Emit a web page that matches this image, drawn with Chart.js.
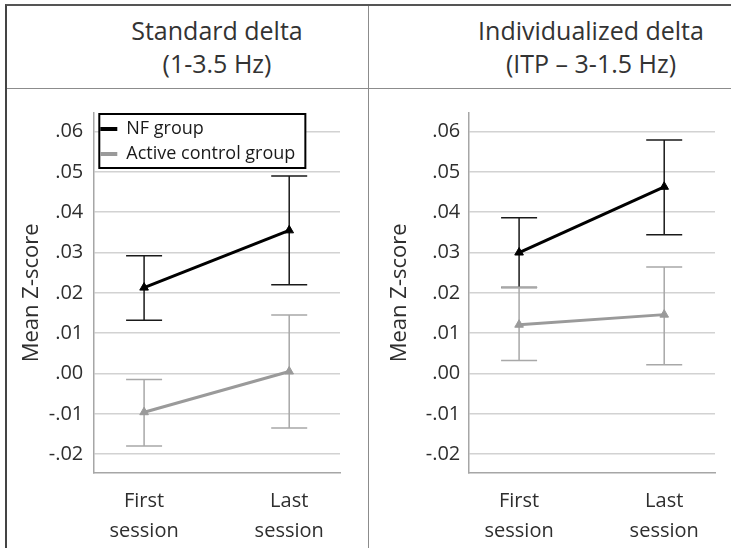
<!DOCTYPE html>
<html><head><meta charset="utf-8">
<script src="https://cdn.jsdelivr.net/npm/chart.js@4"></script>
<style>
html,body{margin:0;padding:0;background:#fff;width:731px;height:548px;overflow:hidden;font-family:"Open Sans",sans-serif;}
#frame{position:absolute;left:5px;top:4px;width:726px;height:544px;border-top:2px solid #555;border-left:2px solid #444;box-sizing:border-box;}
#sep{position:absolute;left:7px;top:88px;width:724px;height:0;border-top:1px solid #8c8c8c;}
#vdiv{position:absolute;left:368px;top:6px;width:0;height:542px;border-left:1px solid #8c8c8c;}
.hdr{position:absolute;top:14px;width:260px;text-align:center;font-size:25px;line-height:33px;color:#333;font-weight:400;white-space:nowrap;}
canvas{position:absolute;top:90px;}
</style></head>
<body>
<div id="frame"></div>
<div id="sep"></div>
<div id="vdiv"></div>
<div class="hdr" style="left:87px">Standard delta<br>(1-3.5 Hz)</div>
<div class="hdr" style="left:461px">Individualized delta<br>(ITP – 3-1.5 Hz)</div>
<canvas id="c1" width="361" height="458" style="left:7px"></canvas>
<canvas id="c2" width="362" height="458" style="left:369px"></canvas>
<script>
// ---- data ----
const sessions = [["First", "session"], ["Last", "session"]];
const seriesNames = ["NF group", "Active control group"];
const yTickValues = [-0.02, -0.01, 0.00, 0.01, 0.02, 0.03, 0.04, 0.05, 0.06];
const yTickLabels = ["-.02", "-.01", ".00", ".01", ".02", ".03", ".04", ".05", ".06"];

// Standard delta (1-3.5 Hz)
const stdNfMean   = [0.0213, 0.0355];
const stdNfLow    = [0.0132, 0.0220];
const stdNfHigh   = [0.0292, 0.0490];
const stdCtrlMean = [-0.0096, 0.0005];
const stdCtrlLow  = [-0.0180, -0.0135];
const stdCtrlHigh = [-0.0015, 0.0145];

// Individualized delta (ITP – 3-1.5 Hz)
const indNfMean   = [0.0300, 0.0463];
const indNfLow    = [0.0213, 0.0344];
const indNfHigh   = [0.0386, 0.0579];
const indCtrlMean = [0.0121, 0.0146];
const indCtrlLow  = [0.0032, 0.0022];
const indCtrlHigh = [0.0214, 0.0264];

// ---- styling ----
const TEXT = '#2e2e2e';
const FONT = "'Open Sans', sans-serif";
Chart.defaults.font.family = FONT;
Chart.defaults.font.weight = '400';
Chart.defaults.color = TEXT;

const errorBars = {
  id: 'errorBars',
  beforeDatasetsDraw(chart) {
    const ctx = chart.ctx, xs = chart.scales.x, ys = chart.scales.y;
    chart.data.datasets.forEach(ds => {
      ctx.save();
      ctx.strokeStyle = ds.errColor;
      ctx.lineWidth = 1.5;
      ds.data.forEach((p, j) => {
        const x = xs.getPixelForValue(p.x);
        const yl = ys.getPixelForValue(ds.errLow[j]);
        const yh = ys.getPixelForValue(ds.errHigh[j]);
        ctx.beginPath();
        ctx.moveTo(x, yl); ctx.lineTo(x, yh);
        ctx.moveTo(x - 18, yl); ctx.lineTo(x + 18, yl);
        ctx.moveTo(x - 18, yh); ctx.lineTo(x + 18, yh);
        ctx.stroke();
      });
      ctx.restore();
    });
  }
};

const legendFrame = {
  id: 'legendFrame',
  afterLayout(chart) {
    const lg = chart.legend;
    if (!lg || !lg.options.display) return;
    const h = lg.bottom - lg.top;
    lg.top = chart.chartArea.top;
    lg.bottom = lg.top + h;
    if (typeof lg.adjustHitBoxes === 'function') lg.adjustHitBoxes();
  },
  afterDatasetsDraw(chart) {
    const lg = chart.legend;
    if (!lg || !lg.options.display || !lg.legendHitBoxes.length) return;
    const lab = lg.options.labels;
    const pad = lab.padding, fs = lab.font.size;
    const n = lg.legendHitBoxes.length;
    let maxW = 0;
    lg.legendHitBoxes.forEach(hb => { maxW = Math.max(maxW, hb.width); });
    const left = lg.left + pad - 1;
    const top = lg.top + 1;
    const right = lg.left + pad + maxW + 10;
    const bottom = lg.top + pad + n * fs + (n - 1) * pad + 5;
    const ctx = chart.ctx;
    ctx.save();
    ctx.fillStyle = '#fff';
    ctx.fillRect(left, top, right - left, bottom - top);
    ctx.strokeStyle = '#000';
    ctx.lineWidth = 2;
    ctx.strokeRect(left, top, right - left, bottom - top);
    ctx.restore();
    lg.draw();
  }
};

function makeChart(id, nfMean, nfLow, nfHigh, ctMean, ctLow, ctHigh, cfg) {
  const pts = arr => arr.map((v, i) => ({x: i, y: v}));
  return new Chart(document.getElementById(id), {
    type: 'line',
    data: {
      datasets: [
        { label: seriesNames[0], data: pts(nfMean), errLow: nfLow, errHigh: nfHigh,
          borderColor: '#000', backgroundColor: '#000', errColor: '#1a1a1a',
          borderWidth: 3, pointStyle: 'triangle', pointRadius: 5, pointBorderWidth: 1 },
        { label: seriesNames[1], data: pts(ctMean), errLow: ctLow, errHigh: ctHigh,
          borderColor: '#9a9a9a', backgroundColor: '#9a9a9a', errColor: '#a8a8a8',
          borderWidth: 3, pointStyle: 'triangle', pointRadius: 5, pointBorderWidth: 1 }
      ]
    },
    options: {
      responsive: false, animation: false, devicePixelRatio: 1,
      layout: { padding: { top: 23, right: cfg.padRight, bottom: 0, left: 0 } },
      plugins: {
        tooltip: { enabled: false },
        legend: {
          display: cfg.legend, position: 'chartArea', align: 'start',
          labels: {
            boxWidth: 17, boxHeight: 4, padding: 7, color: '#1a1a1a',
            font: { size: 18, family: FONT, weight: '400' },
            generateLabels(chart) {
              return chart.data.datasets.map((ds, i) => ({
                text: ds.label, fillStyle: ds.borderColor, strokeStyle: ds.borderColor,
                lineWidth: 0, datasetIndex: i, hidden: false, fontColor: '#1a1a1a'
              }));
            }
          }
        }
      },
      scales: {
        x: {
          type: 'linear', min: -0.35, max: 1.35,
          afterBuildTicks(s) { s.ticks = sessions.map((_, i) => ({value: i})); },
          afterFit(s) { s.height = 75.3; },
          grid: { display: false },
          border: { display: true, color: '#a6a6a6', width: 1.5 },
          ticks: {
            padding: 6, maxRotation: 0, autoSkip: false, color: TEXT,
            font: { size: 20, lineHeight: 1.5, family: FONT, weight: '400' },
            callback: (v, i) => sessions[i]
          }
        },
        y: {
          type: 'linear', min: -0.0246, max: 0.0646,
          afterBuildTicks(s) { s.ticks = yTickValues.map(v => ({value: v})); },
          afterFit(s) { s.width = cfg.yWidth; },
          grid: { color: '#d2d2d2', lineWidth: 1.5, drawTicks: false },
          border: { display: true, color: '#a6a6a6', width: 1.5 },
          ticks: {
            padding: cfg.tickPad, color: TEXT,
            font: { size: 20, family: FONT, weight: '400' },
            callback: (v, i) => yTickLabels[i]
          },
          title: {
            display: true, text: 'Mean Z-score', color: TEXT,
            font: { size: 22, family: FONT, weight: '400' },
            padding: { top: cfg.titlePad, bottom: 0 }
          }
        }
      }
    },
    plugins: [errorBars, legendFrame]
  });
}

makeChart('c1', stdNfMean, stdNfLow, stdNfHigh, stdCtrlMean, stdCtrlLow, stdCtrlHigh,
  { padRight: 28, yWidth: 86.3, tickPad: 10, titlePad: 11.5, legend: true });
makeChart('c2', indNfMean, indNfLow, indNfHigh, indCtrlMean, indCtrlLow, indCtrlHigh,
  { padRight: 16, yWidth: 99.3, tickPad: 8, titlePad: 17.8, legend: false });
</script>
</body></html>
